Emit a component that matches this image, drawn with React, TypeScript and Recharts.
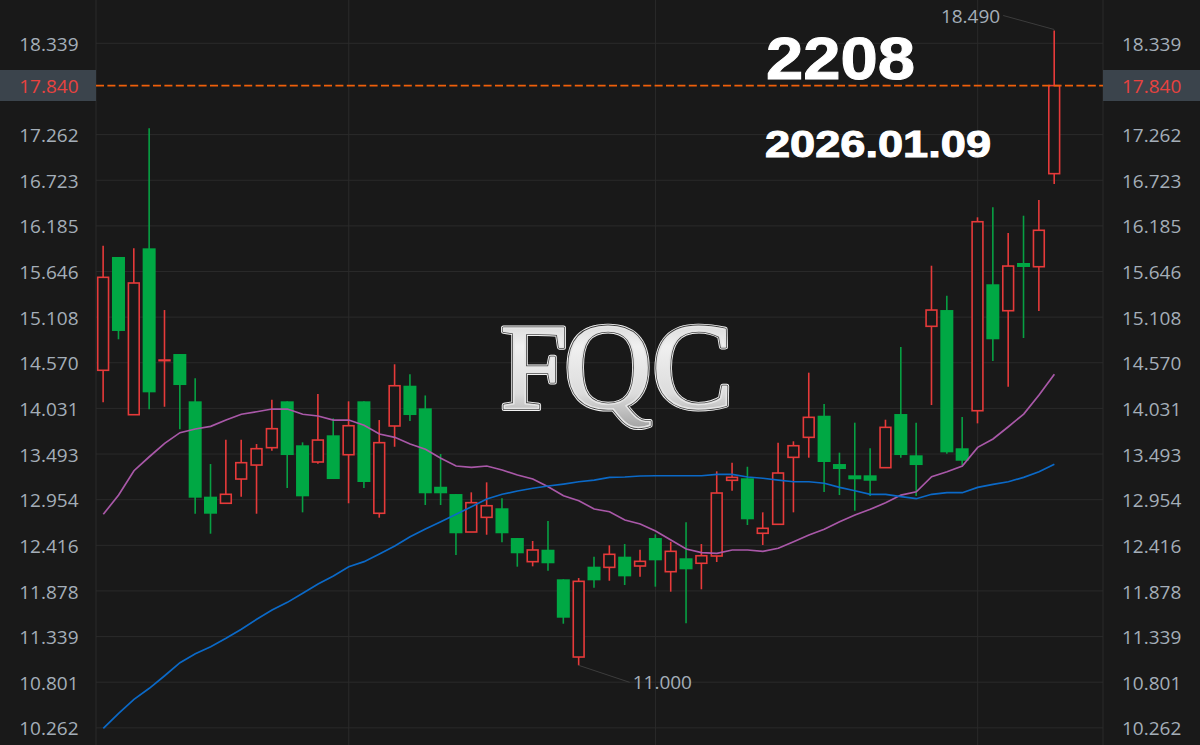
import { Bar, CartesianGrid, ComposedChart, Line, ReferenceLine, XAxis, YAxis } from 'recharts'

const W = 1200
const H = 745
const LEFT = 96
const RIGHT = 97

const UP = '#e63a3a'
const DOWN = '#00a844'
const DOWN_WICK = '#07a043'
const LABEL = '#a4aeb8'

const opens = [
  14.481, 15.818, 13.957, 15.92, 14.602, 14.673, 14.115, 12.99, 12.912, 13.198, 13.363,
  13.568, 14.115, 13.596, 13.399, 13.714, 13.485, 14.115, 12.794, 13.824, 14.299, 14.032,
  13.107, 13.021, 12.573, 12.746, 12.853, 12.502, 12.223, 12.364, 12.015, 11.098, 12.164,
  12.156, 12.282, 12.172, 12.502, 12.105, 12.263, 12.204, 12.29, 13.183, 13.207, 12.558,
  12.664, 13.454, 13.69, 13.945, 13.375, 13.242, 13.242, 13.332, 13.965, 13.478, 15.0,
  15.192, 13.561, 14.004, 15.496, 15.184, 15.747, 15.703, 16.801,
]
const closes = [
  15.578, 14.945, 15.511, 14.221, 14.602, 14.307, 12.978, 12.789, 13.018, 13.391, 13.556,
  13.792, 13.481, 12.994, 13.658, 13.198, 13.827, 13.163, 13.627, 14.299, 13.953, 13.03,
  13.03, 12.558, 12.919, 12.883, 12.558, 12.322, 12.361, 12.204, 11.562, 11.991, 12.003,
  12.31, 12.05, 12.227, 12.239, 12.345, 12.133, 12.293, 13.033, 13.218, 12.723, 12.617,
  13.269, 13.591, 13.926, 13.399, 13.316, 13.195, 13.178, 13.808, 13.481, 13.363, 15.192,
  13.513, 13.414, 16.234, 14.847, 15.711, 15.7, 16.133, 17.84,
]
const highs = [
  15.951, 15.818, 15.92, 17.336, 15.192, 14.673, 14.386, 13.375, 13.662, 13.662, 13.611,
  14.134, 14.115, 13.631, 14.201, 13.914, 14.115, 14.115, 13.894, 14.552, 14.434, 14.184,
  13.493, 13.021, 13.041, 13.159, 12.97, 12.502, 12.467, 12.703, 12.015, 12.03, 12.282,
  12.416, 12.431, 12.364, 12.546, 12.458, 12.687, 12.431, 13.289, 13.391, 13.343, 12.805,
  13.627, 13.643, 14.453, 14.083, 13.509, 13.863, 13.561, 13.898, 14.756, 13.863, 15.715,
  15.361, 13.93, 16.286, 16.404, 16.101, 16.305, 16.49, 18.49,
]
const lows = [
  14.103, 14.847, 13.957, 14.021, 14.051, 13.785, 12.789, 12.553, 12.912, 12.99, 12.789,
  13.532, 13.092, 12.805, 13.379, 13.198, 12.912, 13.092, 12.742, 13.579, 13.883, 12.892,
  12.892, 12.302, 12.573, 12.541, 12.451, 12.164, 12.168, 12.116, 11.491, 11.0, 11.916,
  11.998, 11.948, 12.046, 11.928, 11.869, 11.496, 11.897, 12.219, 13.06, 12.656, 12.42,
  12.664, 12.805, 13.45, 13.045, 13.009, 12.824, 12.998, 13.332, 13.45, 12.998, 14.071,
  13.497, 13.363, 13.855, 14.591, 14.287, 14.862, 15.181, 16.679,
]
const ma20 = [
  12.782, 13.009, 13.296, 13.461, 13.619, 13.745, 13.788, 13.82, 13.894, 13.962, 13.992,
  14.024, 14.024, 13.962, 13.942, 13.894, 13.894, 13.832, 13.729, 13.69, 13.611, 13.549,
  13.443, 13.352, 13.336, 13.352, 13.304, 13.245, 13.198, 13.107, 13.001, 12.942, 12.844,
  12.812, 12.715, 12.667, 12.585, 12.479, 12.372, 12.329, 12.322, 12.361, 12.361, 12.345,
  12.381, 12.458, 12.538, 12.605, 12.695, 12.773, 12.841, 12.919, 13.009, 13.048, 13.225,
  13.284, 13.352, 13.572, 13.67, 13.815, 13.965, 14.189, 14.434,
]
const ma60 = [
  10.257, 10.434, 10.599, 10.729, 10.877, 11.031, 11.137, 11.22, 11.319, 11.425, 11.543,
  11.653, 11.743, 11.85, 11.959, 12.054, 12.164, 12.223, 12.313, 12.408, 12.517, 12.608,
  12.695, 12.782, 12.871, 12.962, 13.018, 13.057, 13.089, 13.116, 13.139, 13.166, 13.186,
  13.218, 13.222, 13.234, 13.237, 13.237, 13.237, 13.237, 13.254, 13.254, 13.222, 13.207,
  13.186, 13.166, 13.166, 13.148, 13.1, 13.06, 13.018, 13.018, 12.99, 12.966, 13.018,
  13.037, 13.037, 13.1, 13.136, 13.166, 13.218, 13.284, 13.372,
]

const priceTicks = [
  18.339, 17.262, 16.723, 16.185, 15.646, 15.108, 14.57, 14.031, 13.493, 12.954, 12.416,
  11.878, 11.339, 10.801, 10.262,
]
const lastPrice = 17.84
const gridColumns = [16, 36, 57]

const data = opens.map((open, i) => ({
  i,
  open,
  close: closes[i],
  high: highs[i],
  low: lows[i],
  ma20: ma20[i],
  ma60: ma60[i],
}))

const peakIndex = highs.indexOf(Math.max(...highs))
const troughIndex = lows.indexOf(Math.min(...lows))

function Candle(props: any) {
  const { x, y, width, height, payload } = props
  const { open, close, high, low, i } = payload
  const unit = height / (high - low)
  const cx = x + width / 2
  const isUp = close >= open
  const top = y + (high - Math.max(open, close)) * unit
  const bottom = y + (high - Math.min(open, close)) * unit
  const color = isUp ? UP : DOWN

  return (
    <g>
      <line x1={cx} x2={cx} y1={y} y2={y + height} stroke={isUp ? UP : DOWN_WICK} strokeWidth={1.6} />
      <rect
        x={x + (isUp ? 1.1 : 0)}
        y={top}
        width={width - (isUp ? 2.2 : 0)}
        height={Math.max(bottom - top, isUp ? 0.6 : 3)}
        fill={isUp ? '#191919' : color}
        stroke={isUp ? color : 'none'}
        strokeWidth={1.6}
      />
      {i === peakIndex && (
        <g>
          <line x1={cx} y1={y - 1} x2={cx - 51} y2={y - 15} stroke="#3c3c3c" />
          <text x={cx - 54} y={y - 15} textAnchor="end" dominantBaseline="central" fill={LABEL} fontSize={19} fontFamily="'Open Sans', sans-serif">
            {high.toFixed(3)}
          </text>
        </g>
      )}
      {i === troughIndex && (
        <g>
          <line x1={cx} y1={y + height} x2={cx + 51} y2={y + height + 17} stroke="#3c3c3c" />
          <text x={cx + 54} y={y + height + 17} dominantBaseline="central" fill={LABEL} fontSize={19} fontFamily="'Open Sans', sans-serif">
            {low.toFixed(3)}
          </text>
        </g>
      )}
    </g>
  )
}

function PriceTick(props: any) {
  const { y, payload, side } = props
  const isLast = payload.value === lastPrice
  const left = side === 'left'
  return (
    <g>
      {isLast && <rect x={left ? 0 : W - RIGHT} y={y - 15.6} width={left ? LEFT : RIGHT} height={31} fill="#3b444c" />}
      <text
        x={left ? 78.5 : 1122}
        y={y + 0.6}
        textAnchor={left ? 'end' : 'start'}
        dominantBaseline="central"
        fill={isLast ? '#e8423f' : LABEL}
        fontSize={19}
        fontFamily="'Open Sans', sans-serif"
      >
        {payload.value.toFixed(3)}
      </text>
    </g>
  )
}

function Overlay() {
  const logo = { x: '500 564 652', y: 408, fontSize: 122, fontFamily: "'Liberation Serif', serif" }
  return (
    <svg width={W} height={H} style={{ position: 'absolute', left: 0, top: 0, pointerEvents: 'none' }}>
      <defs>
        <linearGradient id="chrome" x1="0" y1="0" x2="0" y2="1">
          <stop offset="0%" stopColor="#c4c4c4" />
          <stop offset="35%" stopColor="#f0f0f0" />
          <stop offset="70%" stopColor="#dcdcdc" />
          <stop offset="100%" stopColor="#9a9a9a" />
        </linearGradient>
      </defs>
      <text {...logo} fill="none" stroke="#f2f2f2" strokeWidth={5} strokeLinejoin="round">FQC</text>
      <text {...logo} fill="none" stroke="#3e3e3e" strokeWidth={3.2} strokeLinejoin="round">FQC</text>
      <text {...logo} fill="url(#chrome)" stroke="#e6e6e6" strokeWidth={1.6} strokeLinejoin="round">FQC</text>
      <text x={766} y={79} fill="#fff" stroke="#fff" strokeWidth={1} fontSize={60} fontWeight={700} fontFamily="'Liberation Sans', sans-serif" textLength={149} lengthAdjust="spacingAndGlyphs">2208</text>
      <text x={765} y={157} fill="#fff" stroke="#fff" strokeWidth={1} fontSize={37} fontWeight={700} fontFamily="'Liberation Sans', sans-serif" textLength={226} lengthAdjust="spacingAndGlyphs">2026.01.09</text>
    </svg>
  )
}

export default function App() {
  const domain: [number, number] = [10.06, 18.85]
  const ticks = [...priceTicks, lastPrice]
  return (
    <div style={{ position: 'absolute', left: 0, top: 0, width: W, height: H, background: '#191919', overflow: 'hidden' }}>
      <ComposedChart width={W} height={H} data={data} margin={{ top: 0, right: 0, left: 0, bottom: 0 }}>
        <CartesianGrid
          stroke="#2a2a2a"
          horizontalValues={priceTicks}
          verticalValues={[-0.476, ...gridColumns, 65.17]}
        />
        <XAxis type="number" dataKey="i" domain={[-0.476, 65.17]} allowDataOverflow hide />
        <YAxis
          domain={domain}
          ticks={ticks}
          interval={0}
          width={LEFT}
          allowDataOverflow
          axisLine={false}
          tickLine={false}
          tick={<PriceTick side="left" />}
        />
        <YAxis
          yAxisId="right"
          orientation="right"
          domain={domain}
          ticks={ticks}
          interval={0}
          width={RIGHT}
          allowDataOverflow
          axisLine={false}
          tickLine={false}
          tick={<PriceTick side="right" />}
        />
        <Bar dataKey={(d: any) => [d.low, d.high]} barSize={13} shape={<Candle />} isAnimationActive={false} />
        <Line dataKey="ma20" stroke="#a958a8" strokeWidth={1.7} dot={false} activeDot={false} isAnimationActive={false} />
        <Line dataKey="ma60" stroke="#0b69c7" strokeWidth={1.7} dot={false} activeDot={false} isAnimationActive={false} />
        <ReferenceLine y={lastPrice} stroke="#ee5f0a" strokeDasharray="8 3.4" strokeWidth={1.6} />
      </ComposedChart>
      <Overlay />
    </div>
  )
}
